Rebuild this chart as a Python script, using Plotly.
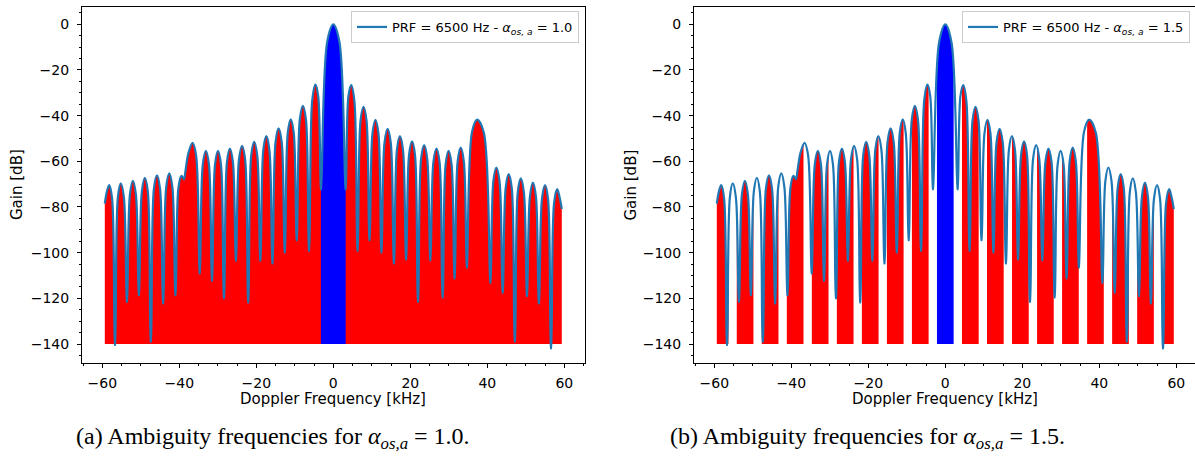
import plotly.graph_objects as go

# ---------------- data ----------------
prf_hz = 6500
alpha_os = [1.0, 1.5]
band_center_khz = [-58.5, -52.0, -45.5, -39.0, -32.5, -26.0, -19.5, -13.0, -6.5, 0.0,
                   6.5, 13.0, 19.5, 26.0, 32.5, 39.0, 45.5, 52.0, 58.5]
floor_db = -140.0

edge_khz = [-59.35, 59.35]
edge_db = [-78.5, -80.9]

null_khz = [-56.7, -53.6, -50.5, -47.4, -44.2, -41.0, -38.75, -34.7, -31.5, -28.4,
            -25.3, -22.1, -18.95, -15.8, -12.6, -9.5, -6.3, -3.2, 3.2, 6.3,
            9.4, 12.5, 15.75, 18.9, 22.0, 25.2, 28.4, 31.5, 34.7, 40.8,
            44.0, 47.15, 50.3, 53.4, 56.55]
null_db = [-140.4, -121.5, -118.6, -139.0, -122.2, -118.6, -67.8, -109.1, -112.3, -120.0,
           -103.5, -121.8, -103.5, -104.7, -99.9, -94.5, -99.2, -72.2, -72.2, -99.2,
           -94.5, -99.9, -104.7, -103.0, -121.5, -103.3, -119.6, -111.3, -106.5, -113.2,
           -117.5, -139.0, -119.0, -122.2, -141.9]

peak_khz = [-58.2, -55.2, -52.05, -48.95, -45.8, -42.6, -39.5, -36.55, -33.1, -29.95,
            -26.85, -23.7, -20.55, -17.4, -14.2, -11.05, -7.9, -4.65, 0.0, 4.65,
            7.85, 10.95, 14.1, 17.3, 20.45, 23.6, 26.8, 29.95, 33.1, 37.4,
            42.35, 45.55, 48.7, 51.85, 55.0, 58.15]
peak_db = [-70.4, -69.7, -68.5, -67.2, -66.1, -65.3, -66.4, -51.9, -55.4, -55.4,
           -54.4, -53.2, -51.5, -49.0, -45.6, -41.6, -35.7, -26.4, 0.0, -26.6,
           -36.1, -41.8, -45.8, -49.0, -51.3, -52.9, -54.4, -55.4, -54.0, -41.7,
           -62.7, -65.6, -67.5, -69.3, -70.4, -72.2]
# gain half-way between each lobe's left/right null and its peak
shoulder_l_db = [-73.0, -75.7, -74.5, -73.2, -72.1, -71.3, -72.0, -56.5, -61.4, -61.4,
                 -60.4, -59.2, -57.5, -55.0, -51.6, -47.6, -41.7, -33.4, -7.8, -31.6,
                 -42.1, -47.8, -51.8, -55.0, -57.3, -58.9, -60.4, -61.4, -60.0, -47.0,
                 -68.7, -71.6, -73.5, -75.3, -76.4, -78.2]
shoulder_r_db = [-76.4, -75.7, -74.5, -73.2, -72.1, -71.3, -67.0, -57.5, -61.4, -61.4,
                 -60.4, -59.2, -57.5, -55.0, -51.6, -47.6, -41.7, -31.4, -7.8, -33.6,
                 -42.1, -47.8, -51.8, -55.0, -57.3, -58.9, -60.4, -61.4, -60.0, -47.5,
                 -68.7, -71.6, -73.5, -75.3, -76.4, -75.5]

# ---------------- build the trace arrays ----------------
node_x = [edge_khz[0]] + null_khz + [edge_khz[1]]
node_y = [edge_db[0]] + null_db + [edge_db[1]]
EPS = 0.015
cx, cy = [node_x[0]], [node_y[0]]
for i in range(len(peak_khz)):
    if i > 0:
        cx += [node_x[i] - EPS, node_x[i] + EPS]
        cy += [node_y[i], node_y[i]]
    cx += [(node_x[i] + peak_khz[i]) / 2, peak_khz[i], (peak_khz[i] + node_x[i + 1]) / 2]
    cy += [shoulder_l_db[i], peak_db[i], shoulder_r_db[i]]
cx.append(node_x[-1])
cy.append(node_y[-1])

main_lo, main_hi = null_khz[17], null_khz[18]
mx = [x for x in cx if main_lo - 3 * EPS <= x <= main_hi + 3 * EPS]
my = [y for x, y in zip(cx, cy) if main_lo - 3 * EPS <= x <= main_hi + 3 * EPS]

W, H = 1195, 464
LINE = '#1f77b4'
fig = go.Figure()

panels = [
    dict(xa='x', ya='y', leg='legend', x0=81.95, x1=584.65, c=333.3, letter='a'),
    dict(xa='x2', ya='y2', leg='legend2', x0=693.95, x1=1194.5, c=945.3, letter='b'),
]
PXK = 3.85  # px per kHz

spline = dict(shape='spline', smoothing=1.0, simplify=False)
for p, alpha in zip(panels, alpha_os):
    xa, ya = p['xa'], p['ya']
    # red fill under the whole curve
    fig.add_trace(go.Scatter(x=[cx[0], cx[-1]], y=[floor_db, floor_db], mode='lines',
                             line=dict(width=0, color='rgba(0,0,0,0)'), xaxis=xa, yaxis=ya,
                             showlegend=False, hoverinfo='skip'))
    fig.add_trace(go.Scatter(x=cx, y=cy, mode='lines', fill='tonexty', fillcolor='#ff0000',
                             line=dict(width=0, color='rgba(0,0,0,0)', **spline),
                             xaxis=xa, yaxis=ya, showlegend=False, hoverinfo='skip'))
    # blue fill under the main lobe
    fig.add_trace(go.Scatter(x=[mx[0], mx[-1]], y=[floor_db, floor_db], mode='lines',
                             line=dict(width=0, color='rgba(0,0,0,0)'), xaxis=xa, yaxis=ya,
                             showlegend=False, hoverinfo='skip'))
    fig.add_trace(go.Scatter(x=mx, y=my, mode='lines', fill='tonexty', fillcolor='#0000ff',
                             line=dict(width=0, color='rgba(0,0,0,0)', **spline),
                             xaxis=xa, yaxis=ya, showlegend=False, hoverinfo='skip'))
    # white gaps between ambiguity bands
    half = prf_hz / 1000.0 / (2 * alpha)
    for c0, c1 in zip(band_center_khz[:-1], band_center_khz[1:]):
        a, b = c0 + half, c1 - half
        if b - a > 1e-6:
            fig.add_trace(go.Scatter(x=[a, a, b, b, a], y=[-143, 3, 3, -143, -143],
                                     mode='lines', fill='toself', fillcolor='white',
                                     line=dict(width=0, color='rgba(0,0,0,0)'),
                                     xaxis=xa, yaxis=ya, showlegend=False, hoverinfo='skip'))
    # pattern line
    fig.add_trace(go.Scatter(x=cx, y=cy, mode='lines',
                             line=dict(color=LINE, width=2.2, **spline),
                             name='PRF = %d Hz - <i>α<sub>os, a</sub></i> = %.1f' % (prf_hz, alpha),
                             xaxis=xa, yaxis=ya, legend=p['leg'], showlegend=True))

ybot, ytop = 363.3, 6.7
yd = [(H - ybot) / H, (H - ytop) / H]
yrange = [-148.45, 7.71]

tickfont = dict(family='DejaVu Sans', size=14, color='black')
minor_common = dict(ticks='outside', ticklen=2, tickwidth=1, tickcolor='black', showgrid=False)
axis_common = dict(showline=True, linecolor='black', linewidth=1, mirror=True,
                   ticks='outside', ticklen=4, tickwidth=1, tickcolor='black',
                   showgrid=False, zeroline=False, tickfont=tickfont, fixedrange=True)

layout = dict(width=W, height=H, margin=dict(l=0, r=0, t=0, b=0),
              paper_bgcolor='white', plot_bgcolor='white', showlegend=True)
for i, p in enumerate(panels):
    sfx = '' if i == 0 else '2'
    lo = -(p['c'] - p['x0']) / PXK
    hi = (p['x1'] - p['c']) / PXK
    layout['xaxis' + sfx] = dict(domain=[p['x0'] / W, p['x1'] / W], range=[lo, hi],
                                 anchor='y' + sfx, tickmode='linear', tick0=0, dtick=20,
                                 minor=dict(dtick=5, **minor_common), ticklabelstandoff=3,
                                 **axis_common)
    layout['yaxis' + sfx] = dict(domain=yd, range=yrange, anchor='x' + sfx,
                                 tickmode='linear', tick0=0, dtick=20,
                                 minor=dict(dtick=5, **minor_common), ticklabelstandoff=5,
                                 **axis_common)

legend_common = dict(bgcolor='white', bordercolor='#cccccc', borderwidth=1,
                     font=dict(family='DejaVu Sans', size=13, color='black'),
                     xanchor='right', yanchor='top', y=(H - 11) / H)
layout['legend'] = dict(x=579 / W, **legend_common)
layout['legend2'] = dict(x=1190 / W, **legend_common)

fig.update_layout(**layout)

title_font = dict(family='DejaVu Sans', size=15, color='black')
ann = []
ycenter = (ybot + ytop) / 2
for p, ylab_x, cap_x, alpha in zip(panels, [17, 630.5], [273, 867], alpha_os):
    ann.append(dict(text='Gain [dB]', x=ylab_x / W, y=(H - ycenter) / H, xref='paper', yref='paper',
                    textangle=-90, showarrow=False, font=title_font, xanchor='center', yanchor='middle'))
    ann.append(dict(text='Doppler Frequency [kHz]', x=p['c'] / W, y=(H - 398.5) / H, xref='paper',
                    yref='paper', showarrow=False, font=title_font, xanchor='center', yanchor='middle'))
    ann.append(dict(text='(%s) Ambiguity frequencies for <i>α<sub>os,a</sub></i> = %.1f.' % (p['letter'], alpha),
                    x=cap_x / W, y=(H - 438) / H, xref='paper', yref='paper', showarrow=False,
                    font=dict(family='Liberation Serif', size=24, color='black'),
                    xanchor='center', yanchor='middle'))
fig.update_layout(annotations=ann)

fig.write_html('out.html')
